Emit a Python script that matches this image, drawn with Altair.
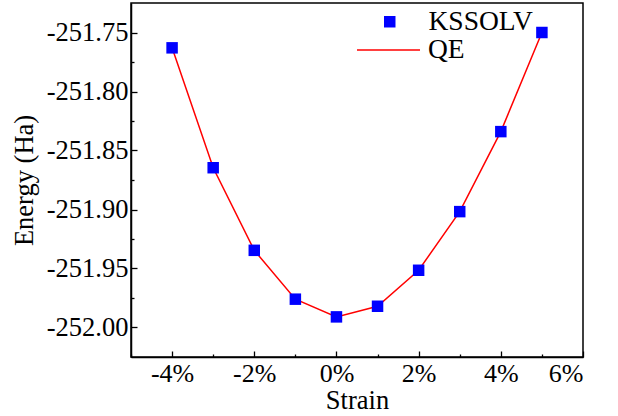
import altair as alt
import pandas as pd

strain = [-4, -3, -2, -1, 0, 1, 2, 3, 4, 5]
kssolv = [-251.763, -251.8646, -251.9346, -251.976, -251.991, -251.982,
          -251.9515, -251.9018, -251.834, -251.750]
qe = [-251.763, -251.8646, -251.9346, -251.976, -251.991, -251.982,
      -251.9515, -251.9018, -251.834, -251.750]

x_ticks = [-5, -4, -3, -2, -1, 0, 1, 2, 3, 4, 5, 6]
y_ticks = [-252.0, -251.975, -251.95, -251.925, -251.9, -251.875, -251.85,
           -251.825, -251.8, -251.775, -251.75]
x_domain = [-5, 6]
y_domain = [-252.025, -251.725]

df_pts = pd.DataFrame({"strain": strain, "energy": kssolv, "series": "KSSOLV"})
df_line = pd.DataFrame({"strain": strain, "energy": qe, "series": "QE"})

FONT = "Liberation Serif"
MAJOR_Y = "abs(datum.value*20 - round(datum.value*20)) < 0.1"

x_axis = alt.Axis(
    values=x_ticks,
    labelExpr="datum.value % 2 == 0 ? datum.value + '%' : ''",
    tickSize={"condition": {"test": "datum.value % 2 == 0", "value": -6},
              "value": -3},
    tickColor="black", tickWidth=1.3,
    domainColor="black", domainWidth=1.5,
    labelFont=FONT, labelFontSize=26, labelColor="black", labelPadding=9,
    title="Strain", titleFont=FONT, titleFontSize=26.5, titleFontWeight="normal",
    titleColor="black", titlePadding=1, grid=False,
)
y_axis = alt.Axis(
    values=y_ticks,
    labelExpr=MAJOR_Y + " ? '-' + format(abs(datum.value), '.2f') : ''",
    tickSize={"condition": {"test": MAJOR_Y, "value": -6},
              "value": -3},
    tickColor="black", tickWidth=1.3,
    domainColor="black", domainWidth=1.5,
    labelFont=FONT, labelFontSize=26.5, labelColor="black", labelPadding=9,
    title="Energy (Ha)", titleFont=FONT, titleFontSize=26.5, titleFontWeight="normal",
    titleColor="black", titlePadding=8, grid=False,
)

x_enc = alt.X("strain:Q", scale=alt.Scale(domain=x_domain, nice=False, zero=False), axis=x_axis)
y_enc = alt.Y("energy:Q", scale=alt.Scale(domain=y_domain, nice=False, zero=False), axis=y_axis)

line = alt.Chart(df_line).mark_line(strokeWidth=1.5).encode(
    x=x_enc, y=y_enc,
    stroke=alt.Stroke("series:N", scale=alt.Scale(domain=["QE"], range=["#ff0000"]),
                      legend=alt.Legend(title=None, orient="none", legendX=225, legendY=14.5,
                                        symbolType="stroke", symbolSize=3969,
                                        symbolStrokeWidth=1.5, labelOffset=7,
                                        labelFont=FONT, labelFontSize=27.5, labelColor="black",
                                        padding=0)),
)

pts = alt.Chart(df_pts).mark_square(size=132, opacity=1).encode(
    x=x_enc, y=y_enc,
    color=alt.Color("series:N", scale=alt.Scale(domain=["KSSOLV"], range=["#0000ff"]),
                    legend=alt.Legend(title=None, orient="none", legendX=245, legendY=5,
                                      symbolType="square", symbolSize=132,
                                      symbolStrokeWidth=0, labelOffset=25, symbolOpacity=1,
                                      labelFont=FONT, labelFontSize=27.5, labelColor="black",
                                      padding=0)),
)

chart = alt.layer(line, pts).properties(
    width=452, height=354,
    autosize=alt.AutoSizeParams(type="none"),
    padding={"left": 131, "top": 3, "right": 35, "bottom": 59},
    background="white",
).configure_view(stroke="black", strokeWidth=1.5)

chart.save("out.html", embed_options={"renderer": "svg", "actions": False})
